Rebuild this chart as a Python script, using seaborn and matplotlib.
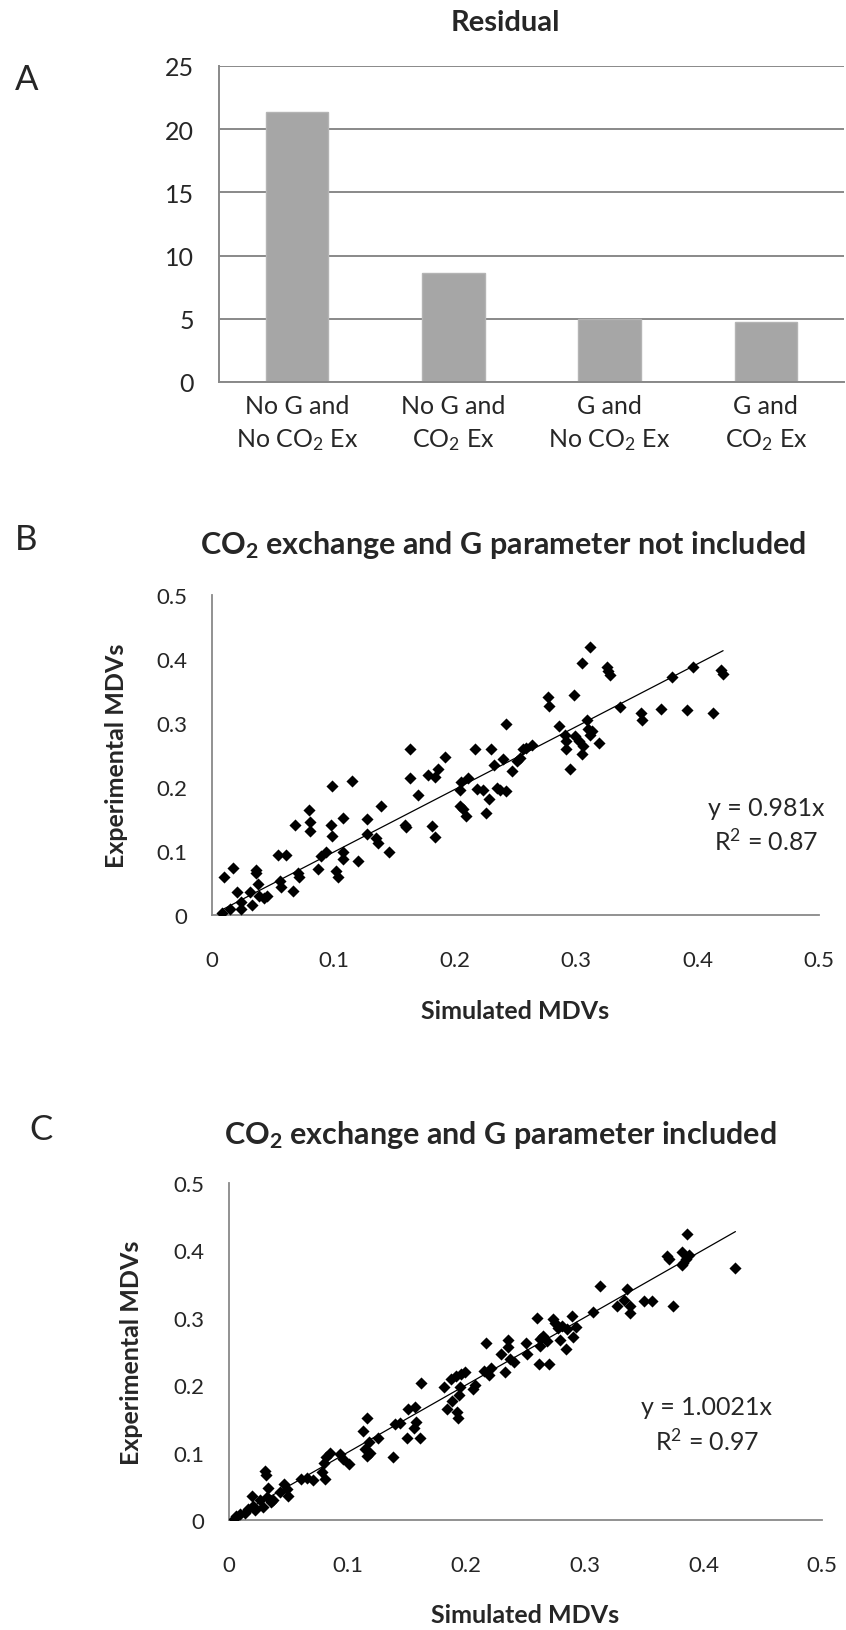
import matplotlib
matplotlib.use("Agg")
import matplotlib.pyplot as plt
import numpy as np
import seaborn as sns

# Panel A: residuals per model variant
categories = ["No G and\nNo CO$_2$ Ex", "No G and\nCO$_2$ Ex", "G and\nNo CO$_2$ Ex", "G and\nCO$_2$ Ex"]
residuals = [21.4, 8.6, 5.0, 4.75]

# Panel B: CO2 exchange and G parameter not included
b_sim = [0.008, 0.015, 0.010, 0.017, 0.021, 0.024, 0.024, 0.031, 0.033, 0.036, 0.036, 0.038, 0.039, 0.043,
         0.045, 0.054, 0.061, 0.056, 0.057, 0.067, 0.071, 0.072, 0.068, 0.080, 0.081, 0.081, 0.087, 0.090,
         0.094, 0.099, 0.098, 0.099, 0.102, 0.104, 0.108, 0.108, 0.108, 0.115, 0.120, 0.128, 0.128, 0.135,
         0.137, 0.139, 0.146, 0.159, 0.160, 0.163, 0.163, 0.170, 0.178, 0.181, 0.184, 0.184, 0.186, 0.192,
         0.204, 0.205, 0.204, 0.207, 0.209, 0.211, 0.217, 0.218, 0.2235, 0.226, 0.228, 0.230, 0.232, 0.235,
         0.237, 0.240, 0.242, 0.242, 0.247, 0.251, 0.254, 0.256, 0.259, 0.264, 0.277, 0.278, 0.286, 0.291,
         0.292, 0.292, 0.295, 0.298, 0.299, 0.302, 0.305, 0.305, 0.306, 0.309, 0.310, 0.311, 0.311, 0.313,
         0.319, 0.325, 0.326, 0.328, 0.336, 0.353, 0.354, 0.370, 0.379, 0.391, 0.396, 0.413, 0.419, 0.421]
b_exp = [0.003, 0.010, 0.060, 0.073, 0.036, 0.020, 0.010, 0.036, 0.016, 0.071, 0.065, 0.048, 0.030, 0.026,
         0.029, 0.093, 0.093, 0.053, 0.043, 0.037, 0.065, 0.059, 0.141, 0.164, 0.146, 0.132, 0.072, 0.092,
         0.099, 0.201, 0.141, 0.124, 0.069, 0.059, 0.099, 0.087, 0.151, 0.210, 0.084, 0.150, 0.126, 0.121,
         0.112, 0.170, 0.098, 0.141, 0.137, 0.260, 0.214, 0.187, 0.219, 0.139, 0.122, 0.215, 0.228, 0.247,
         0.196, 0.208, 0.170, 0.165, 0.154, 0.214, 0.259, 0.197, 0.195, 0.160, 0.181, 0.259, 0.234, 0.199,
         0.196, 0.244, 0.298, 0.194, 0.225, 0.240, 0.246, 0.259, 0.261, 0.266, 0.341, 0.327, 0.295, 0.282,
         0.272, 0.260, 0.228, 0.344, 0.279, 0.272, 0.394, 0.251, 0.264, 0.304, 0.290, 0.418, 0.282, 0.287,
         0.269, 0.388, 0.381, 0.375, 0.325, 0.315, 0.304, 0.322, 0.372, 0.321, 0.387, 0.315, 0.383, 0.377]
b_slope = 0.981
b_r2 = 0.87

# Panel C: CO2 exchange and G parameter included
c_sim = [0.004, 0.006, 0.009, 0.0135, 0.016, 0.0205, 0.022, 0.019, 0.026, 0.029, 0.030, 0.031, 0.033, 0.032,
         0.035, 0.037, 0.043, 0.046, 0.049, 0.050, 0.061, 0.066, 0.071, 0.078, 0.081, 0.080, 0.082, 0.085,
         0.094, 0.096, 0.101, 0.115, 0.116, 0.113, 0.118, 0.116, 0.119, 0.126, 0.138, 0.140, 0.144, 0.150,
         0.151, 0.156, 0.157, 0.158, 0.162, 0.161, 0.181, 0.187, 0.191, 0.196, 0.199, 0.184, 0.188, 0.192,
         0.193, 0.194, 0.195, 0.206, 0.207, 0.215, 0.219, 0.221, 0.217, 0.229, 0.233, 0.235, 0.235, 0.237,
         0.240, 0.250, 0.251, 0.261, 0.262, 0.262, 0.260, 0.265, 0.270, 0.268, 0.273, 0.275, 0.277, 0.279,
         0.281, 0.284, 0.285, 0.289, 0.290, 0.293, 0.307, 0.313, 0.327, 0.333, 0.336, 0.338, 0.338, 0.350,
         0.357, 0.374, 0.369, 0.371, 0.382, 0.382, 0.385, 0.386, 0.388, 0.383, 0.427]
c_exp = [0.001, 0.006, 0.009, 0.011, 0.016, 0.021, 0.015, 0.035, 0.029, 0.019, 0.073, 0.067, 0.048, 0.034,
         0.027, 0.030, 0.041, 0.053, 0.046, 0.036, 0.061, 0.063, 0.060, 0.071, 0.061, 0.085, 0.093, 0.100,
         0.098, 0.090, 0.083, 0.105, 0.151, 0.132, 0.115, 0.095, 0.099, 0.122, 0.094, 0.142, 0.144, 0.122,
         0.164, 0.137, 0.168, 0.145, 0.203, 0.122, 0.198, 0.209, 0.214, 0.216, 0.220, 0.164, 0.177, 0.160,
         0.152, 0.185, 0.197, 0.194, 0.201, 0.221, 0.215, 0.226, 0.262, 0.246, 0.219, 0.267, 0.256, 0.239,
         0.235, 0.262, 0.246, 0.231, 0.268, 0.258, 0.300, 0.273, 0.231, 0.266, 0.298, 0.293, 0.285, 0.267,
         0.288, 0.253, 0.284, 0.303, 0.272, 0.287, 0.308, 0.347, 0.318, 0.326, 0.342, 0.318, 0.307, 0.325,
         0.325, 0.318, 0.392, 0.387, 0.398, 0.379, 0.387, 0.424, 0.393, 0.382, 0.374]
c_slope = 1.0021
c_r2 = 0.97

mdv_ticks = [0, 0.1, 0.2, 0.3, 0.4, 0.5]
mdv_labels = ["0", "0.1", "0.2", "0.3", "0.4", "0.5"]

sns.set_theme(style="white")
plt.rcParams["font.family"] = ["Lato", "DejaVu Sans"]
plt.rcParams["mathtext.fontset"] = "custom"
plt.rcParams["mathtext.rm"] = "Lato"
plt.rcParams["mathtext.it"] = "Lato:italic"
plt.rcParams["mathtext.bf"] = "Lato:bold"

W, H = 846, 1631
GREY = "#898989"
fig = plt.figure(figsize=(W / 100, H / 100), dpi=100)


def box(left, top, right, bottom):
    # pixel box -> figure fraction rect
    return [left / W, 1 - bottom / H, (right - left) / W, (bottom - top) / H]


# ---- Panel A ----
ax_a = fig.add_axes(box(219, 67, 844, 383))
sns.barplot(x=categories, y=residuals, color="#a6a6a6", saturation=1, width=0.4,
            edgecolor="#b4b4b4", linewidth=1, ax=ax_a)
ax_a.set_ylim(0, 25)
ax_a.set_yticks(range(0, 26, 5))
ax_a.set_axisbelow(True)
ax_a.yaxis.grid(True, color=GREY, linewidth=1.4)
sns.despine(ax=ax_a, top=True, right=True)
for side in ["left", "bottom"]:
    ax_a.spines[side].set_color(GREY)
    ax_a.spines[side].set_linewidth(1.4)
ax_a.tick_params(axis="y", length=0, pad=18, labelsize=18)
ax_a.tick_params(axis="x", length=0, pad=9, labelsize=18)
for lbl in ax_a.get_xticklabels():
    lbl.set_linespacing(1.45)
ax_a.set_xlabel("")
ax_a.set_ylabel("")
fig.text(505 / W, 1 - 23 / H, "Residual", ha="center", va="center", fontsize=21, fontweight="bold")
fig.text(27 / W, 1 - 80 / H, "A", ha="center", va="center", fontsize=25)


def mdv_panel(rect, sim, exp, slope, r2, title, letter, title_xy, letter_xy, eq_xy):
    ax = fig.add_axes(rect)
    sns.scatterplot(x=sim, y=exp, marker="D", color="black", s=38, linewidth=0, ax=ax, zorder=3)
    x_line = np.array([min(sim), max(sim)])
    sns.lineplot(x=x_line, y=slope * x_line, color="black", linewidth=0.9, ax=ax, zorder=2)
    ax.set_xlim(0, 0.5)
    ax.set_ylim(0, 0.5)
    ax.set_xticks(mdv_ticks)
    ax.set_xticklabels(mdv_labels)
    ax.set_yticks(mdv_ticks)
    ax.set_yticklabels(mdv_labels)
    sns.despine(ax=ax, top=True, right=True)
    for side in ["left", "bottom"]:
        ax.spines[side].set_color(GREY)
        ax.spines[side].set_linewidth(1.3)
    ax.tick_params(axis="y", length=0, pad=18, labelsize=16)
    ax.tick_params(axis="x", length=0, pad=25, labelsize=16)
    ax.set_xlabel("Simulated MDVs", fontsize=18, fontweight="bold", va="center")
    ax.set_ylabel("Experimental MDVs", fontsize=18, fontweight="bold", va="center")
    ax.text(eq_xy[0], eq_xy[1], f"y = {slope}x", transform=ax.transAxes,
            ha="center", va="center", fontsize=18)
    ax.text(eq_xy[0], eq_xy[1] - 0.103, f"R$^2$ = {r2}", transform=ax.transAxes,
            ha="center", va="center", fontsize=18)
    fig.text(title_xy[0] / W, 1 - title_xy[1] / H, title, ha="center", va="center",
             fontsize=22, fontweight="bold")
    fig.text(letter_xy[0] / W, 1 - letter_xy[1] / H, letter, ha="center", va="center", fontsize=25)
    return ax


ax_b = mdv_panel(box(212, 596, 819, 916), b_sim, b_exp, b_slope, b_r2,
                 r"CO$_\mathbf{2}$ exchange and G parameter not included", "B",
                 (503, 545), (26, 540), (0.913, 0.337))
ax_b.xaxis.set_label_coords(0.5, -0.30)
ax_b.yaxis.set_label_coords(-0.157, 0.5)

ax_c = mdv_panel(box(229, 1184, 822, 1521), c_sim, c_exp, c_slope, c_r2,
                 r"CO$_\mathbf{2}$ exchange and G parameter included", "C",
                 (500, 1135), (41, 1130), (0.806, 0.338))
ax_c.xaxis.set_label_coords(0.5, -0.279)
ax_c.yaxis.set_label_coords(-0.164, 0.5)

fig.savefig("out.png", dpi=100)
